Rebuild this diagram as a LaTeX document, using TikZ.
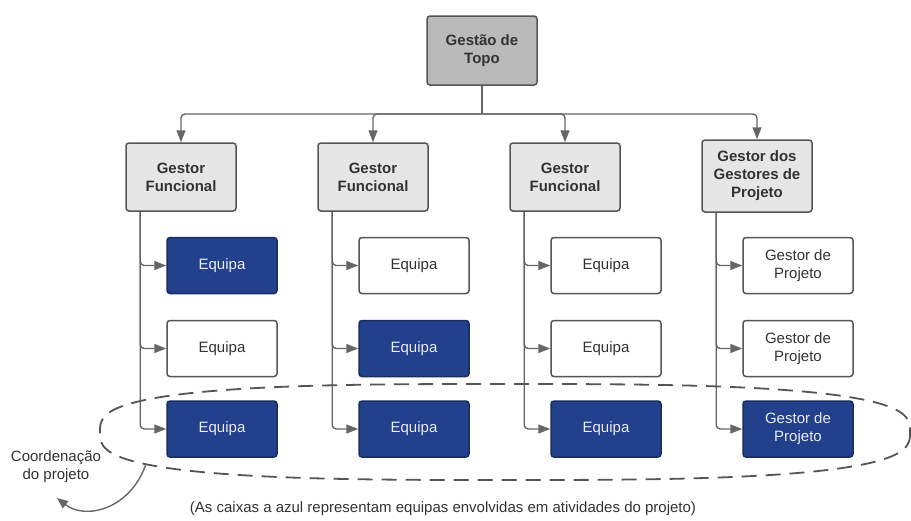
\documentclass[tikz,border=0pt]{standalone}
\usepackage{fontspec}
\setmainfont{Liberation Sans}
\usetikzlibrary{arrows.meta}
\definecolor{lineg}{HTML}{666666}
\definecolor{bordg}{HTML}{555555}
\definecolor{topg}{HTML}{BABABA}
\definecolor{mgrg}{HTML}{E6E6E6}
\definecolor{navy}{HTML}{22408C}
\definecolor{txtg}{HTML}{333333}
\tikzset{
  base/.style={draw=bordg, line width=1.5pt, rounded corners=3pt, minimum width=110pt, align=center, inner sep=0pt, text=txtg, font=\fontsize{15}{18}\selectfont},
  topbox/.style={base, fill=topg, minimum height=69pt, font=\fontsize{15}{18}\selectfont\bfseries},
  mgrbox/.style={base, fill=mgrg, minimum height=68pt, font=\fontsize{15}{18}\selectfont\bfseries},
  teamw/.style={base, fill=white, minimum height=56pt},
  teamb/.style={base, fill=navy, draw=navy!70!black, minimum height=56pt, text=white!92!black},
  arr/.style={draw=lineg, line width=1.4pt, rounded corners=4pt, -{Triangle[length=12pt,width=9pt]}},
  conn/.style={draw=lineg, line width=1.4pt},
  ell/.style={draw=bordg, line width=1.8pt, dash pattern=on 15pt off 9pt},
  lbl/.style={align=center, text=txtg, inner sep=0pt, font=\fontsize{15}{18}\selectfont}
}
\begin{document}
\begin{tikzpicture}[x=1pt,y=-1pt]
\useasboundingbox (0,0) rectangle (911,520);
% top
\node[topbox] (top) at (482,50.5) {Gestão de\\Topo};
% managers
\node[mgrbox] (m1) at (181,177) {Gestor\\Funcional};
\node[mgrbox] (m2) at (373,177) {Gestor\\Funcional};
\node[mgrbox] (m3) at (565,177) {Gestor\\Funcional};
\node[mgrbox, minimum height=72pt] (m4) at (757,176) {Gestor dos\\Gestores de\\Projeto};
% teams
\node[teamb] (t11) at (222,265.5) {Equipa};
\node[teamw] (t12) at (222,348.5) {Equipa};
\node[teamb] (t13) at (222,429) {Equipa};
\node[teamw] (t21) at (414,265.5) {Equipa};
\node[teamb] (t22) at (414,348.5) {Equipa};
\node[teamb] (t23) at (414,429) {Equipa};
\node[teamw] (t31) at (606,265.5) {Equipa};
\node[teamw] (t32) at (606,348.5) {Equipa};
\node[teamb] (t33) at (606,429) {Equipa};
\node[teamw] (t41) at (798,265.5) {Gestor de\\Projeto};
\node[teamw] (t42) at (798,348.5) {Gestor de\\Projeto};
\node[teamb] (t43) at (798,429) {Gestor de\\Projeto};
% top connectors
\coordinate (j) at (482,114);
\draw[conn] (top.south) -- (j);
\foreach \m in {m1,m2,m3,m4} \draw[arr] (j) -| (\m.north);
% manager to teams
\foreach \c in {1,2,3,4}{
  \foreach \r in {1,2,3}{
    \draw[arr] ([xshift=15pt]m\c.south west) |- (t\c\r.west);
  }
}
% ellipse (superellipse)
\draw[ell] plot[domain=0.5:360.5, samples=240, smooth]
  ({505 + 405*cos(\x)*abs(cos(\x))^(-1/3)}, {432 + 48*sin(\x)*abs(sin(\x))^(-1/3)}) -- cycle;
% coordination label and arrow
\node[lbl] (coord) at (56,467) {Coordenação\\do projeto};
\coordinate (cs) at (146,464);
\coordinate (ce) at (57,498);
\draw[conn, -{Triangle[length=11pt,width=9pt]}] (cs) .. controls (130,510) and (85,520) .. (ce);
% caption
\node[lbl] (cap) at (443,509) {(As caixas a azul representam equipas envolvidas em atividades do projeto)};
\end{tikzpicture}
\end{document}
